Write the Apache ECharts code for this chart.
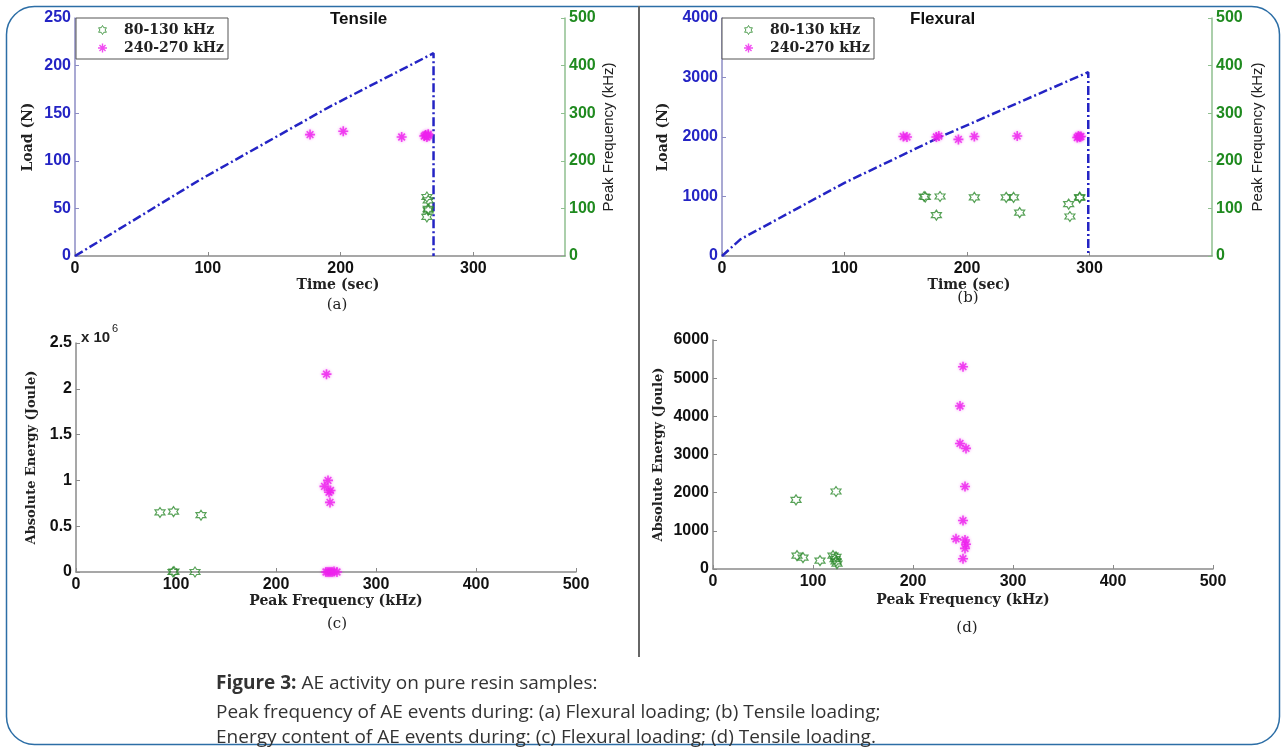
<!DOCTYPE html>
<html>
<head>
<meta charset="utf-8">
<title>AE activity on pure resin samples</title>
<script src="https://cdn.jsdelivr.net/npm/echarts@6.0.0/dist/echarts.min.js"></script>
<style>
  html, body { margin: 0; padding: 0; background: #fff; }
  #chart { width: 1286px; height: 751px; }
</style>
</head>
<body>
<div id="chart"></div>
<script>
// (a) tensile: load ramp + peak frequency of events
var tenLoadTime = [0, 94, 192, 270, 270];
var tenLoad = [0, 80, 157, 213, 0];
var tenLowTime = [265, 266, 266, 266, 265];
var tenLowFreq = [124, 117, 99, 96, 82];
var tenHighTime = [177, 202, 246, 263, 264, 265, 266, 266];
var tenHighFreq = [255, 262, 250, 252, 254, 250, 253, 256];

// (b) flexural
var flexLoadTime = [0, 15, 100, 178, 299, 299];
var flexLoad = [0, 280, 1230, 2000, 3090, 0];
var flexLowTime = [165, 166, 178, 175, 206, 232, 238, 243, 283, 284, 292, 292];
var flexLowFreq = [125, 124, 125, 86, 123, 123, 123, 91, 109, 83, 122, 124];
var flexHighTime = [148, 151, 175, 177, 193, 206, 241, 290, 291, 292, 293];
var flexHighFreq = [251, 250, 250, 252, 245, 251, 252, 249, 252, 250, 251];

// (c) energy vs peak frequency (x 10^6)
var cLowFreq = [84, 97.5, 125, 97, 98, 119];
var cLowEnergy = [650000, 660000, 620000, 0, 5000, 0];
var cHighFreq = [250.5, 252, 248.5, 254.5, 253, 254, 250, 252, 254, 256, 258, 261];
var cHighEnergy = [2160000, 1000000, 935000, 890000, 870000, 760000, 0, 0, 0, 0, 5000, 0];

// (d)
var dLowFreq = [83, 123, 84, 90, 107, 120, 123, 122, 123, 124];
var dLowEnergy = [1810, 2030, 350, 300, 220, 350, 320, 260, 200, 140];
var dHighFreq = [250, 247, 247, 253, 252, 250, 243, 252, 253, 252, 250];
var dHighEnergy = [5300, 4270, 3290, 3160, 2160, 1270, 790, 760, 650, 540, 270];

var timeTicks = [0, 100, 200, 300];
var bandNames = ['80-130 kHz', '240-270 kHz'];

var GREEN = '#2e8b2e';
var MAG = '#ee22ee';
var BLUE = '#2424c4';
var HEX = 'path://M10,0L12.887,5L18.66,5L15.774,10L18.66,15L12.887,15L10,20L7.113,15L1.34,15L4.226,10L1.34,5L7.113,5Z';
var STAR = 'path://M4.2,0H5.8V10H4.2Z M0,4.2H10V5.8H0Z M1.1,2.2L2.2,1.1L8.9,7.8L7.8,8.9Z M7.8,1.1L8.9,2.2L2.2,8.9L1.1,7.8Z';

function zip(xs, ys) {
  var out = [];
  for (var i = 0; i < xs.length; i++) out.push([xs[i], ys[i]]);
  return out;
}
function plain(v) { return String(v); }

var tickFont = { fontFamily: 'Liberation Sans', fontWeight: 'bold', fontSize: 16 };
var nameFont = { fontFamily: 'DejaVu Serif', fontWeight: 'bold', fontSize: 14, color: '#222' };

function xAxisOf(grid, max, ticks, name, padLeft, gap) {
  return {
    type: 'value', gridIndex: grid, min: 0, max: max, interval: 100,
    name: name, nameLocation: 'middle', nameGap: gap,
    nameTextStyle: Object.assign({ padding: [0, 0, 0, padLeft] }, nameFont),
    axisLine: { show: true, lineStyle: { color: '#8a8a8a', width: 1.5 } },
    axisTick: { show: true, inside: true, length: 4, customValues: ticks, lineStyle: { color: '#8a8a8a' } },
    axisLabel: Object.assign({ color: '#111', margin: 5, customValues: ticks, formatter: plain }, tickFont),
    splitLine: { show: false }
  };
}

function yAxisOf(grid, max, interval, opts) {
  return {
    type: 'value', gridIndex: grid, min: 0, max: max, interval: interval,
    position: opts.right ? 'right' : 'left',
    name: opts.name, nameLocation: 'middle', nameGap: opts.gap, nameRotate: 90,
    nameTextStyle: opts.nameStyle || nameFont,
    axisLine: { show: true, lineStyle: { color: opts.lineColor || '#8a8a8a', width: 1.5 } },
    axisTick: { show: true, inside: true, length: 4, lineStyle: { color: opts.lineColor || '#8a8a8a' } },
    axisLabel: Object.assign({ color: opts.labelColor || '#111', margin: 4, formatter: opts.formatter || plain }, tickFont),
    splitLine: { show: false }
  };
}

function lowSeries(name, xi, yi, data) {
  return {
    name: name, type: 'scatter', xAxisIndex: xi, yAxisIndex: yi, data: data,
    symbol: HEX, symbolSize: 10,
    itemStyle: { color: 'rgba(255,255,255,0)', borderColor: GREEN, borderWidth: 1.2 }
  };
}
function highSeries(name, xi, yi, data) {
  return {
    name: name, type: 'scatter', xAxisIndex: xi, yAxisIndex: yi, data: data,
    symbol: STAR, symbolSize: 10,
    itemStyle: { color: MAG, shadowBlur: 3, shadowColor: 'rgba(238,34,238,0.6)' }
  };
}
function loadSeries(xi, yi, data) {
  return {
    name: 'Load', type: 'line', xAxisIndex: xi, yAxisIndex: yi, data: data,
    showSymbol: false, symbol: 'none', z: 1,
    lineStyle: { color: BLUE, width: 2.5, type: [9, 3, 2, 3] }
  };
}

function legendAt(left) {
  return {
    left: left, top: 18, orient: 'vertical', selectedMode: false,
    padding: [5, 4, 4, 22], itemGap: 4, itemWidth: 9, itemHeight: 9,
    borderColor: '#555', borderWidth: 1, backgroundColor: '#fff',
    textStyle: Object.assign({ padding: [0, 0, 0, 12] }, nameFont),
    data: [
      { name: bandNames[0], icon: HEX, itemStyle: { color: 'rgba(255,255,255,0)', borderColor: GREEN, borderWidth: 1 } },
      { name: bandNames[1], icon: STAR, itemStyle: { color: MAG } }
    ]
  };
}

var rightNameStyle = { fontFamily: 'Liberation Sans', fontSize: 15, color: '#222' };
var energyNameStyle = { fontFamily: 'DejaVu Serif', fontWeight: 'bold', fontSize: 13, color: '#222' };
var titleStyle = { fontFamily: 'Liberation Sans', fontWeight: 'bold', fontSize: 17, color: '#111' };
var panelFont = '15px "DejaVu Serif"';
var capFont = '19px "Open Sans"';

var chart = echarts.init(document.getElementById('chart'));
var option = {
  backgroundColor: '#fff',
  animation: false,
  title: [
    { text: 'Tensile', left: 330, top: 11, padding: 0, textStyle: titleStyle },
    { text: 'Flexural', left: 910, top: 11, padding: 0, textStyle: titleStyle }
  ],
  legend: [legendAt(76), legendAt(722)],
  grid: [
    { left: 75, top: 18, width: 490, height: 238, outerBoundsMode: 'none' },
    { left: 722, top: 18, width: 490, height: 238, outerBoundsMode: 'none' },
    { left: 76, top: 343, width: 500, height: 229, outerBoundsMode: 'none' },
    { left: 713, top: 340, width: 500, height: 229, outerBoundsMode: 'none' }
  ],
  xAxis: [
    xAxisOf(0, 369, timeTicks, 'Time (sec)', 36, 18),
    xAxisOf(1, 400, timeTicks, 'Time (sec)', 4, 18),
    xAxisOf(2, 500, null, 'Peak Frequency (kHz)', 20, 21),
    xAxisOf(3, 500, null, 'Peak Frequency (kHz)', 0, 24)
  ],
  yAxis: [
    yAxisOf(0, 250, 50, { name: 'Load (N)', gap: 40, labelColor: BLUE, lineColor: '#8c8cc4' }),
    yAxisOf(0, 500, 100, { right: true, name: 'Peak Frequency (kHz)', gap: 36, labelColor: '#1f8a1f', lineColor: '#8fbf8f', nameStyle: rightNameStyle }),
    yAxisOf(1, 4000, 1000, { name: 'Load (N)', gap: 52, labelColor: BLUE, lineColor: '#8c8cc4' }),
    yAxisOf(1, 500, 100, { right: true, name: 'Peak Frequency (kHz)', gap: 38, labelColor: '#1f8a1f', lineColor: '#8fbf8f', nameStyle: rightNameStyle }),
    yAxisOf(2, 2500000, 500000, { name: 'Absolute Energy (Joule)', gap: 38, nameStyle: energyNameStyle, formatter: function (v) { return String(v / 1000000); } }),
    yAxisOf(3, 6000, 1000, { name: 'Absolute Energy (Joule)', gap: 48, nameStyle: energyNameStyle })
  ],
  series: [
    loadSeries(0, 0, zip(tenLoadTime, tenLoad)),
    lowSeries(bandNames[0], 0, 1, zip(tenLowTime, tenLowFreq)),
    highSeries(bandNames[1], 0, 1, zip(tenHighTime, tenHighFreq)),
    loadSeries(1, 2, zip(flexLoadTime, flexLoad)),
    lowSeries(bandNames[0], 1, 3, zip(flexLowTime, flexLowFreq)),
    highSeries(bandNames[1], 1, 3, zip(flexHighTime, flexHighFreq)),
    lowSeries(bandNames[0], 2, 4, zip(cLowFreq, cLowEnergy)),
    highSeries(bandNames[1], 2, 4, zip(cHighFreq, cHighEnergy)),
    lowSeries(bandNames[0], 3, 5, zip(dLowFreq, dLowEnergy)),
    highSeries(bandNames[1], 3, 5, zip(dHighFreq, dHighEnergy))
  ],
  graphic: [
    // rounded frame + divider
    { type: 'rect', silent: true, shape: { x: 6.5, y: 6.5, width: 1273, height: 738, r: 28 },
      style: { fill: 'none', stroke: '#2c6ea6', lineWidth: 1.5 } },
    { type: 'line', silent: true, shape: { x1: 639, y1: 6, x2: 639, y2: 657 },
      style: { stroke: '#666', lineWidth: 2 } },
    { type: 'text', x: 337, y: 305, style: { text: '(a)', font: panelFont, fill: '#222', align: 'center', verticalAlign: 'middle' } },
    { type: 'text', x: 968, y: 298, style: { text: '(b)', font: panelFont, fill: '#222', align: 'center', verticalAlign: 'middle' } },
    { type: 'text', x: 337, y: 624, style: { text: '(c)', font: panelFont, fill: '#222', align: 'center', verticalAlign: 'middle' } },
    { type: 'text', x: 967, y: 628, style: { text: '(d)', font: panelFont, fill: '#222', align: 'center', verticalAlign: 'middle' } },
    { type: 'text', x: 81, y: 338, style: { text: 'x 10', font: 'bold 15px "Liberation Sans"', fill: '#222', verticalAlign: 'middle' } },
    { type: 'text', x: 112, y: 329, style: { text: '6', font: '11px "Liberation Sans"', fill: '#222', verticalAlign: 'middle' } },
    // caption
    { type: 'text', x: 216, y: 684, style: {
        text: '{b|Figure 3:} AE activity on pure resin samples:',
        font: capFont, fill: '#333', verticalAlign: 'middle',
        rich: { b: { fontWeight: 'bold', fontFamily: 'Open Sans', fontSize: 19, fill: '#333' } } } },
    { type: 'text', x: 216, y: 713, style: {
        text: 'Peak frequency of AE events during: (a) Flexural loading; (b) Tensile loading;',
        font: capFont, fill: '#333', verticalAlign: 'middle' } },
    { type: 'text', x: 216, y: 738, style: {
        text: 'Energy content of AE events during: (c) Flexural loading; (d) Tensile loading.',
        font: capFont, fill: '#333', verticalAlign: 'middle' } }
  ]
};
chart.setOption(option);
</script>
</body>
</html>
